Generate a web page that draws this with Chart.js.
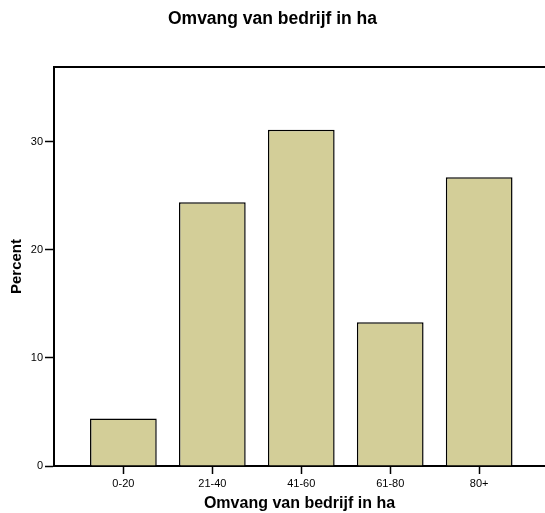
<!DOCTYPE html>
<html>
<head>
<meta charset="utf-8">
<title>Omvang van bedrijf in ha</title>
<script src="https://cdn.jsdelivr.net/npm/chart.js@4"></script>
<style>
  html, body { margin: 0; padding: 0; background: #fff; }
  canvas { display: block; }
</style>
</head>
<body>
<canvas id="chart" width="545" height="513"></canvas>
<script>
// farm size classes (ha) and share of respondents (%)
const categories = ["0-20", "21-40", "41-60", "61-80", "80+"];
const percents = [4.4, 24.4, 31.1, 13.3, 26.7];
const yTicks = [0, 10, 20, 30];

const FONT = "'Liberation Sans', Arial, Helvetica, sans-serif";

// closing line along the top of the plot frame
const frameTop = {
    id: "frameTop",
    afterDraw(chart) {
        const { ctx, chartArea } = chart;
        ctx.save();
        ctx.strokeStyle = "#000";
        ctx.lineWidth = 2;
        ctx.beginPath();
        ctx.moveTo(chartArea.left - 1, chartArea.top);
        ctx.lineTo(chart.width, chartArea.top);
        ctx.stroke();
        ctx.restore();
    }
};

new Chart(document.getElementById("chart"), {
    type: "bar",
    data: {
        datasets: [{
            label: "Percent",
            data: percents.map((v, i) => ({ x: i, y: v })),
            backgroundColor: "rgb(211, 206, 152)",
            borderColor: "#000",
            borderWidth: 1.5,
            categoryPercentage: 1,
            barPercentage: 0.75
        }]
    },
    options: {
        responsive: false,
        animation: false,
        layout: { padding: 0 },
        plugins: {
            legend: { display: false },
            tooltip: { enabled: false },
            title: {
                display: true,
                text: "Omvang van bedrijf in ha",
                color: "#000",
                font: { family: FONT, size: 17.5, weight: "bold" },
                padding: { top: 9, bottom: 37 }
            }
        },
        scales: {
            x: {
                type: "linear",
                min: -0.78,
                max: 4.74,
                offset: false,
                grid: {
                    offset: false,
                    drawOnChartArea: false,
                    drawTicks: true,
                    tickLength: 8,
                    tickWidth: 1.5,
                    tickColor: "#000"
                },
                border: { display: true, color: "#000", width: 2 },
                ticks: {
                    stepSize: 1,
                    includeBounds: false,
                    autoSkip: false,
                    maxRotation: 0,
                    padding: 3,
                    color: "#000",
                    font: { family: FONT, size: 11 },
                    callback: v => categories[v] ?? ""
                },
                title: {
                    display: true,
                    text: "Omvang van bedrijf in ha",
                    color: "#000",
                    font: { family: FONT, size: 16, weight: "bold" },
                    padding: { top: 1, bottom: 0 }
                },
                afterFit: s => { s.height = 47; }
            },
            y: {
                min: 0,
                max: 36.9,
                grid: {
                    drawOnChartArea: false,
                    drawTicks: true,
                    tickLength: 9,
                    tickWidth: 1.5,
                    tickColor: "#000"
                },
                border: { display: true, color: "#000", width: 2 },
                afterBuildTicks: s => { s.ticks = yTicks.map(v => ({ value: v })); },
                ticks: {
                    padding: 2,
                    color: "#000",
                    font: { family: FONT, size: 11 }
                },
                title: {
                    display: true,
                    text: "Percent",
                    color: "#000",
                    font: { family: FONT, size: 15, weight: "bold" },
                    padding: { top: 8, bottom: 0 }
                },
                afterFit: s => { s.width = 54; }
            }
        }
    },
    plugins: [frameTop]
});
</script>
</body>
</html>
